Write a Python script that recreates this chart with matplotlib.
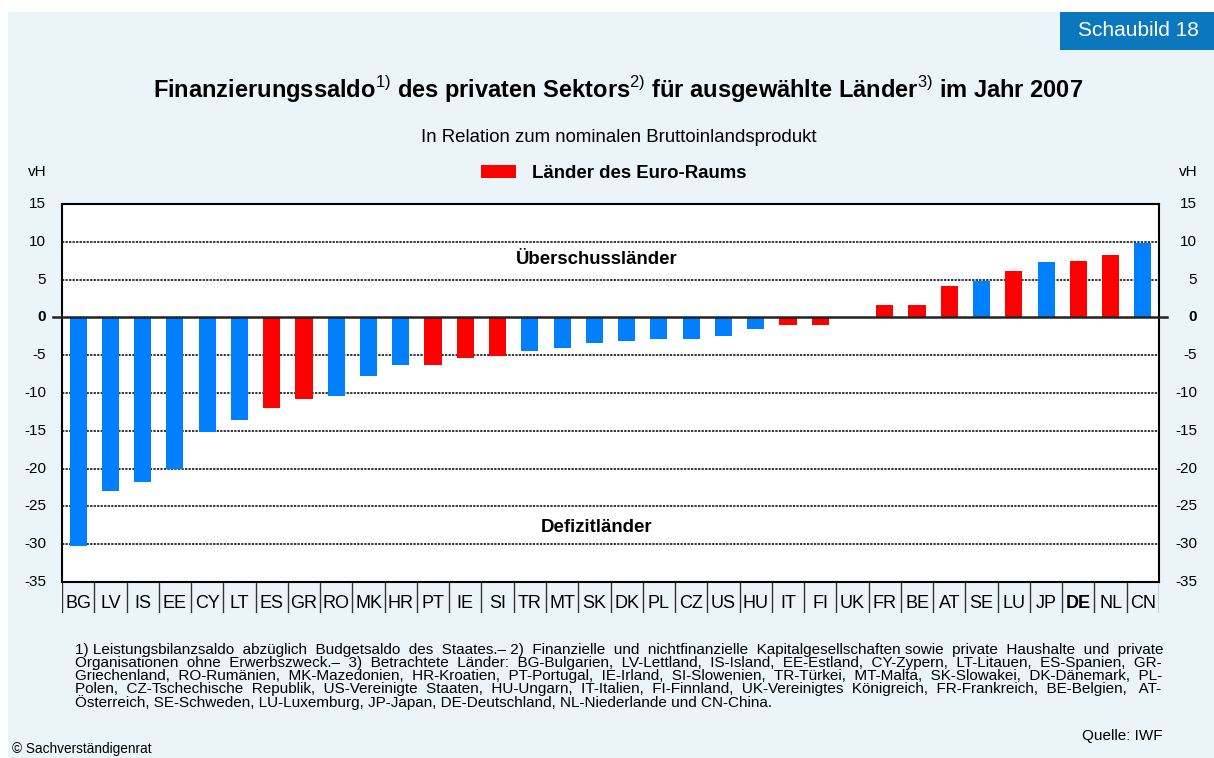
import numpy as np
import matplotlib
matplotlib.use("Agg")
import matplotlib.pyplot as plt
from matplotlib.patches import Rectangle

plt.rcParams['font.family'] = ['Liberation Sans', 'DejaVu Sans']
plt.rcParams['mathtext.fontset'] = 'custom'
plt.rcParams['mathtext.rm'] = 'Liberation Sans'
plt.rcParams['mathtext.bf'] = 'Liberation Sans:bold'

# data (vH des BIP, 2007)
countries = ['BG', 'LV', 'IS', 'EE', 'CY', 'LT', 'ES', 'GR', 'RO', 'MK', 'HR', 'PT',
             'IE', 'SI', 'TR', 'MT', 'SK', 'DK', 'PL', 'CZ', 'US', 'HU', 'IT', 'FI',
             'UK', 'FR', 'BE', 'AT', 'SE', 'LU', 'JP', 'DE', 'NL', 'CN']
saldo = [-30.3, -23.0, -21.8, -20.1, -15.2, -13.6, -12.0, -10.8, -10.4, -7.7, -6.3, -6.3,
         -5.4, -5.1, -4.4, -4.1, -3.4, -3.1, -2.9, -2.8, -2.5, -1.5, -1.0, -1.0,
         0.0, 1.7, 1.7, 4.1, 4.8, 6.1, 7.3, 7.4, 8.3, 9.8]
euro_area = ['ES', 'GR', 'PT', 'IE', 'SI', 'IT', 'FI', 'FR', 'BE', 'AT', 'LU', 'DE', 'NL']
yticks = [15, 10, 5, 0, -5, -10, -15, -20, -25, -30, -35]
grid_vals = [10, 5, -5, -10, -15, -20, -25, -30]

footnotes = [
    "1) Leistungsbilanzsaldo abzüglich Budgetsaldo des Staates.– 2) Finanzielle und nichtfinanzielle Kapitalgesellschaften sowie private Haushalte und private",
    "Organisationen ohne Erwerbszweck.– 3) Betrachtete Länder: BG-Bulgarien, LV-Lettland, IS-Island, EE-Estland, CY-Zypern, LT-Litauen, ES-Spanien, GR-",
    "Griechenland, RO-Rumänien, MK-Mazedonien, HR-Kroatien, PT-Portugal, IE-Irland, SI-Slowenien, TR-Türkei, MT-Malta, SK-Slowakei, DK-Dänemark, PL-",
    "Polen, CZ-Tschechische Republik, US-Vereinigte Staaten, HU-Ungarn, IT-Italien, FI-Finnland, UK-Vereinigtes Königreich, FR-Frankreich, BE-Belgien, AT-",
    "Österreich, SE-Schweden, LU-Luxemburg, JP-Japan, DE-Deutschland, NL-Niederlande und CN-China.",
]

BLUE = '#0080FF'
RED = '#FF0000'
PANEL = '#EBF4F8'

W, H = 1214, 758


def fx(x):
    return x / W


def fy(y):
    return 1 - y / H


fig = plt.figure(figsize=(W / 100, H / 100), dpi=100)
fig.patch.set_facecolor('white')
fig.patches.append(Rectangle((fx(8), 0), 1 - fx(8), fy(12), transform=fig.transFigure,
                             facecolor=PANEL, edgecolor='none', zorder=-10))

# Schaubild label box
fig.patches.append(Rectangle((fx(1060), fy(50)), fx(154), 38 / H, transform=fig.transFigure,
                             facecolor='#0B77BC', edgecolor='none'))
fig.text(fx(1138), fy(31), 'Schaubild 18', color='white', fontsize=15,
         ha='center', va='center')

title = (r'Finanzierungssaldo$^{\mathrm{1)}}$ des privaten Sektors$^{\mathrm{2)}}$ '
         r'für ausgewählte Länder$^{\mathrm{3)}}$ im Jahr 2007')
fig.text(fx(618), fy(98), title, fontsize=17, fontweight='bold', ha='center', va='baseline')
fig.text(fx(619), fy(141.5), 'In Relation zum nominalen Bruttoinlandsprodukt',
         fontsize=13.4, ha='center', va='baseline')

# legend
fig.patches.append(Rectangle((fx(481), fy(178)), fx(35), 13 / H, transform=fig.transFigure,
                             facecolor=RED, edgecolor='none'))
fig.text(fx(532), fy(178), 'Länder des Euro-Raums', fontsize=13.4, fontweight='bold', va='baseline')

fig.text(fx(47), fy(172), 'vH', fontsize=11, ha='right', va='center')
fig.text(fx(1198), fy(172), 'vH', fontsize=11, ha='right', va='center')

# main axes
ax = fig.add_axes([fx(62), fy(582), 1097 / W, 378 / H])
ax.set_facecolor('white')
x = np.arange(len(countries))
colors = [RED if c in euro_area else BLUE for c in countries]
ax.bar(x, saldo, width=0.53, color=colors, zorder=3)
for v in grid_vals:
    ax.axhline(v, color='black', lw=1.1, ls=(0, (1.5, 0.8)), zorder=1)
ax.axhline(0, xmin=-9 / 1097, xmax=1 + 8 / 1097, color='#222222', lw=1.8, clip_on=False, zorder=4)
ax.set_xlim(-0.5, len(countries) - 0.5)
ax.set_ylim(-35, 15)
ax.set_xticks([])
ax.set_yticks([])
for s in ax.spines.values():
    s.set_linewidth(1.5)
    s.set_color('black')

ytr = ax.get_yaxis_transform()
for v in yticks:
    w = 'bold' if v == 0 else 'normal'
    ax.text(-16 / 1097, v, str(v), transform=ytr, ha='right', va='center',
            fontsize=11, fontweight=w)
    ax.text(1 + 38 / 1097, v, str(v), transform=ytr, ha='right', va='center',
            fontsize=11, fontweight=w)

fig.text(fx(597), fy(264), 'Überschussländer', fontsize=13.4, fontweight='bold',
         ha='center', va='baseline')
fig.text(fx(597), fy(531.5), 'Defizitländer', fontsize=13.4, fontweight='bold',
         ha='center', va='baseline')

# country label row
cax = fig.add_axes([fx(62), fy(613), 1097 / W, 31 / H])
cax.set_xlim(-0.5, len(countries) - 0.5)
cax.set_ylim(0, 1)
cax.axis('off')
cax.vlines(np.arange(len(countries) + 1) - 0.5, 0, 1, color='#333333', lw=1)
for i, c in enumerate(countries):
    cax.text(i, 0.17, c, ha='center', va='baseline', fontsize=13,
             fontweight='bold' if c == 'DE' else 'normal')

# footnotes: one text block, lines justified to 1088 px by padding spaces
fs = 11
renderer = fig.canvas.get_renderer()
probe = fig.text(0, 0, 'x', fontsize=fs)


def width(s):
    probe.set_text(s)
    return probe.get_window_extent(renderer).width


space_w = width('a a') - width('aa')
lines = []
for line in footnotes[:-1]:
    words = line.split(' ')
    gaps = len(words) - 1
    n = int(round((1088 - width(line)) / space_w))
    out = words[0]
    for k, wd in enumerate(words[1:]):
        cnt = 1 + (n * (k + 1)) // gaps - (n * k) // gaps
        out += ' ' * cnt + wd
    lines.append(out)
lines.append(footnotes[-1])
probe.remove()

# baseline anchor of a multi-line block is its last line
fig.text(fx(75), fy(707), '\n'.join(lines), fontsize=fs, va='baseline',
         linespacing=0.92)

fig.text(fx(1162), fy(740), 'Quelle: IWF', fontsize=11, ha='right', va='baseline')
fig.text(fx(12), fy(753), '© Sachverständigenrat', fontsize=9.8, va='baseline')

fig.savefig('out.png', dpi=100)
